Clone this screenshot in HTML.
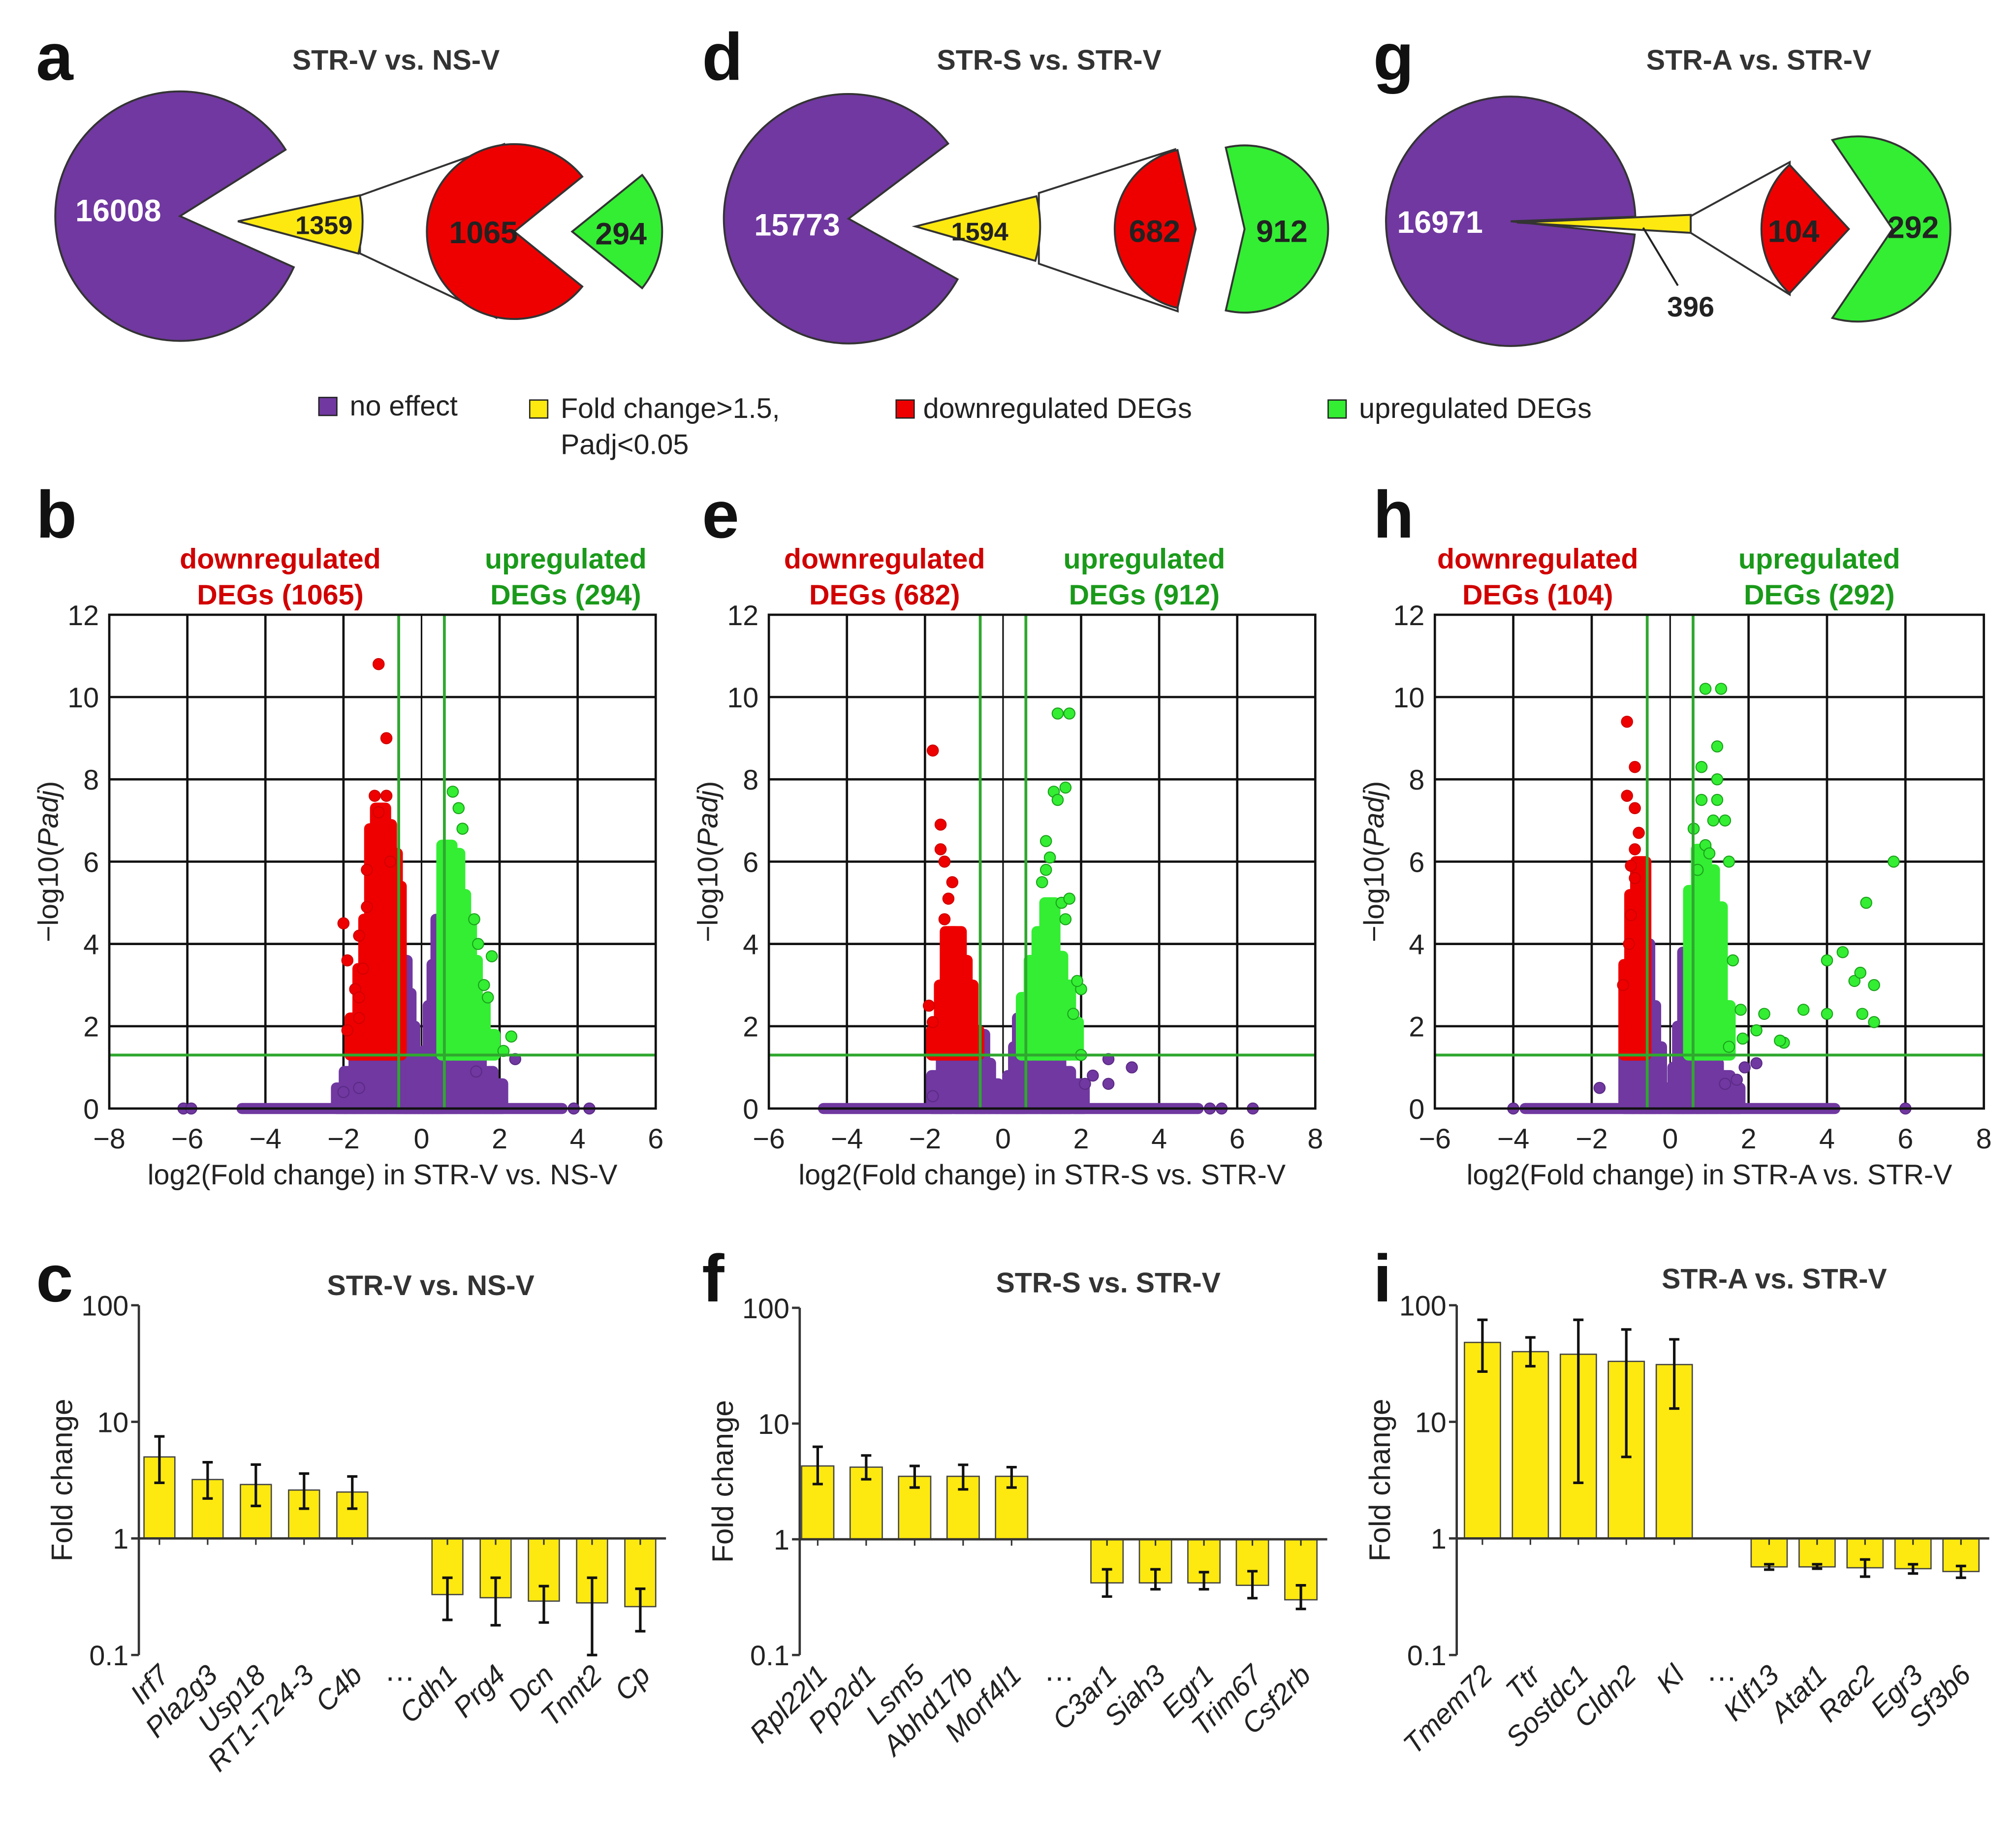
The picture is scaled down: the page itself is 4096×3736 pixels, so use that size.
<!DOCTYPE html>
<html><head><meta charset="utf-8">
<style>
html,body{margin:0;padding:0;background:#fff;}
svg{display:block;font-family:"Liberation Sans",Arial,sans-serif;}
</style></head>
<body>
<svg id="fig" xmlns="http://www.w3.org/2000/svg" width="4096" height="3736" viewBox="0 0 1568 1430">
<rect width="1568" height="1430" fill="#fff"/>
<g font-weight="bold" font-size="52" fill="#111">
<text x="28" y="62">a</text><text x="546" y="62">d</text><text x="1068" y="62">g</text>
<text x="28" y="418">b</text><text x="546" y="418">e</text><text x="1068" y="418">h</text>
<text x="28" y="1012">c</text><text x="546" y="1012">f</text><text x="1068" y="1012">i</text>
</g>
<g font-weight="bold" font-size="22" fill="#333" text-anchor="middle">
<text x="308" y="54">STR-V vs. NS-V</text><text x="816" y="54">STR-S vs. STR-V</text><text x="1368" y="54">STR-A vs. STR-V</text>
</g>
<g id="pies"></g>
<g font-size="22" fill="#222">
<rect x="248" y="309" width="14" height="14" fill="#7038a0" stroke="#222"/><text x="272" y="323">no effect</text>
<rect x="412" y="311" width="14" height="14" fill="#fde910" stroke="#222"/><text x="436" y="325">Fold change&gt;1.5,</text><text x="436" y="353">Padj&lt;0.05</text>
<rect x="697" y="311" width="14" height="14" fill="#ee0000" stroke="#222"/><text x="718" y="325">downregulated DEGs</text>
<rect x="1033" y="311" width="14" height="14" fill="#33ee33" stroke="#222"/><text x="1057" y="325">upregulated DEGs</text>
</g>
<g id="volc"></g>
<g id="bars"></g>
</svg>
<script>
// ---------- Pie data ----------
const pieA = [16008, 1359, 1065, 294];
const pieD = [15773, 1594, 682, 912];
const pieG = [16971, 396, 104, 292];

// ---------- Volcano b data ----------
const bRedPts = [[-1.1,10.8],[-0.9,9.0],[-2.0,4.5],[-1.9,3.6],[-1.5,3.4],[-1.7,2.9],[-1.6,2.7],[-1.9,1.9],[-1.6,2.2],[-1.2,7.6],[-0.9,7.6],[-1.4,5.8],[-1.4,4.9],[-1.6,4.2],[-1.1,7.2],[-0.8,6.0]];
const bRedCloud = [[-1.7,2.2],[-1.5,3.4],[-1.35,4.6],[-1.2,6.8],[-1.05,7.3],[-0.9,6.9],[-0.75,6.2],[-0.65,5.4]];
const bGreenPts = [[0.8,7.7],[0.95,7.3],[1.05,6.8],[1.8,3.7],[1.7,2.7],[2.3,1.75],[2.1,1.4],[1.35,4.6],[1.45,4.0],[1.6,3.0]];
const bGreenCloud = [[0.65,6.4],[0.85,6.2],[1.0,5.2],[1.15,4.6],[1.3,3.6],[1.5,2.6],[1.75,1.8]];
const bPurpleCloud = [[-2.05,0.5],[-1.85,0.9],[-1.6,1.2],[-1.3,1.3],[-1.0,1.3],[-0.7,1.3],[-0.5,3.6],[-0.4,2.8],[-0.3,2.0],[-0.18,1.2],[-0.05,0.4],[0.05,0.4],[0.18,1.4],[0.3,2.5],[0.4,3.5],[0.5,4.6],[0.8,1.3],[1.1,1.3],[1.4,1.2],[1.7,0.9],[1.95,0.6]];
const bPurplePts = [[2.4,1.2],[1.4,0.9],[-2.0,0.4],[-1.6,0.5]];
const bBase = [-4.6, 3.6];
const bBasePts = [-6.1, -5.9, 3.9, 4.3];

// ---------- Volcano e data ----------
const eRedPts = [[-1.8,8.7],[-1.6,6.9],[-1.6,6.3],[-1.5,6.0],[-1.3,5.5],[-1.4,5.1],[-1.9,2.5],[-1.8,2.1],[-1.5,4.6]];
const eRedCloud = [[-1.7,1.9],[-1.5,3.0],[-1.35,4.3],[-1.2,4.3],[-1.05,3.6],[-0.9,3.0],[-0.75,1.9]];
const eGreenPts = [[1.4,9.6],[1.7,9.6],[1.3,7.7],[1.6,7.8],[1.4,7.5],[1.1,6.5],[1.2,6.1],[1.5,5.0],[1.7,5.1],[1.6,4.6],[2.0,2.9],[1.8,2.3],[2.0,1.3],[1.1,5.8],[1.0,5.5],[1.9,3.1]];
const eGreenCloud = [[0.6,2.7],[0.8,3.6],[1.0,4.3],[1.2,5.0],[1.4,3.7],[1.6,3.0],[1.8,2.1]];
const ePurpleCloud = [[-1.7,0.8],[-1.45,1.3],[-1.1,1.3],[-0.8,1.3],[-0.6,1.8],[-0.45,1.1],[-0.25,0.6],[-0.05,0.3],[0.1,0.3],[0.25,0.8],[0.4,1.5],[0.5,2.2],[0.8,1.3],[1.1,1.3],[1.35,1.3],[1.6,0.9],[1.95,0.6]];
const ePurplePts = [[2.7,1.2],[3.3,1.0],[2.7,0.6],[2.3,0.8],[-1.8,0.3],[2.1,0.6]];
const eBase = [-4.6, 5.0];
const eBasePts = [5.3, 5.6, 6.4];

// ---------- Volcano h data ----------
const hRedPts = [[-1.1,9.4],[-0.9,8.3],[-1.1,7.6],[-0.9,7.3],[-0.8,6.7],[-0.9,6.3],[-1.0,5.9],[-0.9,5.6],[-1.0,4.7],[-1.2,3.0],[-1.05,4.0]];
const hRedCloud = [[-1.05,3.5],[-0.9,5.2],[-0.75,6.0]];
const hGreenPts = [[0.9,10.2],[1.3,10.2],[1.2,8.8],[0.8,8.3],[1.2,8.0],[0.8,7.5],[1.2,7.5],[1.1,7.0],[1.4,7.0],[0.6,6.8],[0.9,6.4],[1.0,6.2],[0.7,5.8],[1.5,6.0],[1.6,3.6],[1.8,2.4],[1.5,1.5],[1.85,1.7],[2.4,2.3],[2.2,1.9],[2.9,1.6],[3.4,2.4],[4.0,2.3],[4.0,3.6],[4.4,3.8],[4.7,3.1],[4.85,3.3],[5.2,3.0],[4.9,2.3],[5.2,2.1],[5.0,5.0],[5.7,6.0],[2.8,1.65]];
const hGreenCloud = [[0.6,5.3],[0.8,6.3],[1.0,5.8],[1.2,4.9],[1.4,2.5]];
const hPurpleCloud = [[-1.05,1.3],[-0.85,4.5],[-0.65,4.0],[-0.5,2.5],[-0.35,1.5],[-0.15,0.5],[0.1,0.5],[0.2,1.0],[0.32,2.0],[0.45,3.8],[0.6,3.5],[0.8,1.3],[1.1,1.1],[1.4,0.8],[1.65,0.5]];
const hPurplePts = [[-1.8,0.5],[1.9,1.0],[2.2,1.1],[1.4,0.6],[1.7,0.7]];
const hBase = [-3.7, 4.2];
const hBasePts = [-4.0, 6.0];

// ---------- Bar chart data ----------
const cGenes = ["Irf7","Pla2g3","Usp18","RT1-T24-3","C4b","Cdh1","Prg4","Dcn","Tnnt2","Cp"];
const cVals = [5.0,3.2,2.9,2.6,2.5,0.33,0.31,0.29,0.28,0.26];
const cLo = [3.0,2.2,1.9,1.8,1.8,0.2,0.18,0.19,0.1,0.16];
const cHi = [7.5,4.5,4.3,3.6,3.4,0.46,0.46,0.39,0.46,0.37];
const fGenes = ["Rpl22l1","Pp2d1","Lsm5","Abhd17b","Morf4l1","C3ar1","Siah3","Egr1","Trim67","Csf2rb"];
const fVals = [4.3,4.2,3.5,3.5,3.5,0.42,0.42,0.42,0.4,0.3];
const fLo = [3.0,3.3,2.8,2.7,2.8,0.32,0.37,0.37,0.31,0.25];
const fHi = [6.3,5.3,4.3,4.4,4.2,0.55,0.55,0.52,0.53,0.4];
const iGenes = ["Tmem72","Ttr","Sostdc1","Cldn2","Kl","Klf13","Atat1","Rac2","Egr3","Sf3b6"];
const iVals = [48,40,38,33,31,0.57,0.57,0.56,0.55,0.52];
const iLo = [27,30,3,5,13,0.54,0.55,0.47,0.5,0.46];
const iHi = [75,53,75,62,51,0.6,0.6,0.66,0.6,0.58];
const yTickVals = [100,10,1,0.1];
const yTickLabels = ["100","10","1","0.1"];

const NS="http://www.w3.org/2000/svg";
function mk(tag, attrs, parent, txt){
  const e=document.createElementNS(NS,tag);
  for(const k in attrs) e.setAttribute(k,attrs[k]);
  if(txt!==undefined) e.textContent=txt;
  parent.appendChild(e); return e;
}
const PUR="#7038a0", YEL="#fde910", RED="#ee0000", GRN="#33ee33";
function pt(cx,cy,r,a){const t=a*Math.PI/180;return [cx+r*Math.cos(t),cy+r*Math.sin(t)];}
function sector(cx,cy,r,a1,a2,apx,apy){
  if(apx===undefined){apx=cx;apy=cy;}
  const p1=pt(cx,cy,r,a1),p2=pt(cx,cy,r,a2);
  const large=((a2-a1+360)%360)>180?1:0;
  return `M${apx},${apy} L${p1[0]},${p1[1]} A${r},${r} 0 ${large} 1 ${p2[0]},${p2[1]} Z`;
}
// ---------- Pies ----------
const pies=document.getElementById('pies');
function drawPie(cfg, vals, name){
  const g=mk('g',{},pies);
  
  
  const total=vals[0]+vals[1];
  const ySpan=vals[1]/total*360;
  const mouth=Math.max(ySpan*cfg.mouthK,7);
  let p=mk('path',{d:sector(cfg.pc[0],cfg.pc[1],97,cfg.mouthC+mouth/2,cfg.mouthC-mouth/2+360),fill:PUR,stroke:"#333","stroke-width":1.5},g);
  
  
  const yt=cfg.yTop, yb=cfg.yBot;
  const c=mk('path',{d:`M${yt[0]},${yt[1]} L${cfg.cTop[0]},${cfg.cTop[1]} L${cfg.cBot[0]},${cfg.cBot[1]} L${yb[0]},${yb[1]} Z`,fill:"#fff",stroke:"#333","stroke-width":1.5},g);
  
  
  let y=mk('path',{d:cfg.yPath,fill:YEL,stroke:"#333","stroke-width":1.5},g);
  
  
  const sub=vals[2]+vals[3];
  const rSpan=vals[2]/sub*360, gSpan=vals[3]/sub*360;
  let r=mk('path',{d:sector(cfg.rc[0],cfg.rc[1],cfg.rr,180-rSpan/2,180+rSpan/2),fill:RED,stroke:"#333","stroke-width":1.5},g);
  
  
  const ga=Math.min(gSpan/2,cfg.gMax||180);
  let gr=mk('path',{d:sector(cfg.gc[0],cfg.gc[1],cfg.gr,-ga,ga,cfg.gap[0],cfg.gap[1]),fill:GRN,stroke:"#333","stroke-width":1.5},g);
  
  
  cfg.labels.forEach(L=>{
    const t=mk('text',{x:L[0],y:L[1],"text-anchor":"middle","font-weight":"bold","font-size":L[2],fill:L[3]},g,String(vals[L[4]]));
    
    
  });
}
drawPie({pc:[140,168],mouthC:-4,mouthK:2.0,
  yTop:[280,152],yBot:[280,197],cTop:[392,112],cBot:[386,247],
  yPath:sector(185,172,97,-12,15),
  rc:[400,180],rr:68,gc:[445,180],gr:70,gap:[445,180],
  labels:[[92,172,24,"#fff",0],[252,182,20,"#222",1],[376,189,24,"#222",2],[483,190,24,"#222",3]]},pieA,'pie-str-v-vs-ns-v');
drawPie({pc:[660,170],mouthC:-4,mouthK:2.0,
  yTop:[808,150],yBot:[808,205],cTop:[914,116],cBot:[916,242],
  yPath:sector(712,176,97,-14,16),
  rc:[930,178],rr:63,gc:[968,178],gr:65,gap:[968,178],gMax:110,
  labels:[[620,183,24,"#fff",0],[762,187,20,"#222",1],[898,188,24,"#222",2],[997,188,24,"#222",3]]},pieD,'pie-str-s-vs-str-v');
drawPie({pc:[1175,172],mouthC:2,mouthK:1,
  yTop:[1315,168],yBot:[1315,181],cTop:[1392,126],cBot:[1392,229],
  yPath:"M1180,173 L1315,167 L1315,181 Z",
  rc:[1438,178],rr:68,gc:[1445,178],gr:72,gap:[1472,178],gMax:106,
  labels:[[1120,181,24,"#fff",0],[1395,188,24,"#222",2],[1488,185,24,"#222",3]]},pieG,'pie-str-a-vs-str-v');
(function(){
  const l=mk('line',{x1:1278,y1:177,x2:1305,y2:222,stroke:"#222","stroke-width":1.5},pies);
  
  
  const t=mk('text',{x:1315,y:246,"text-anchor":"middle","font-weight":"bold","font-size":22,fill:"#222"},pies,String(pieG[1]));
  
  
})();

// ---------- Volcano ----------
const volc=document.getElementById('volc');
function drawVolcano(cfg,d){
  const g=mk('g',{},volc);
  
  
  const top=478,bot=862;
  const sx=v=>cfg.x0+(v-cfg.xmin)/(cfg.xmax-cfg.xmin)*(cfg.x1-cfg.x0);
  const sy=v=>bot-v/12*(bot-top);
  const ux=sx(1)-sx(0);
  for(let v=cfg.xmin;v<=cfg.xmax;v+=2){
    if(v>cfg.xmin&&v<cfg.xmax){const l=mk('line',{x1:sx(v),y1:top,x2:sx(v),y2:bot,stroke:"#111","stroke-width":v===0?1.2:1.8},g);
      
      }
    const t=mk('text',{x:sx(v),y:893,"text-anchor":"middle","font-size":22,fill:"#222"},g,(v<0?"\u2212"+(-v):String(v)));
    
    
  }
  for(let v=0;v<=12;v+=2){
    if(v>0&&v<12){const l=mk('line',{x1:cfg.x0,y1:sy(v),x2:cfg.x1,y2:sy(v),stroke:"#111","stroke-width":1.8},g);
      
      }
    const t=mk('text',{x:cfg.x0-8,y:sy(v)+8,"text-anchor":"end","font-size":22,fill:"#222"},g,String(v));
    
    
  }
  const R=4.3;
  function cloud(arr,lo,fill,nm){
    arr.forEach(b=>{const y1=sy(b[1])-R,y2=sy(lo)+R;
      const r=mk('rect',{x:sx(b[0])-0.13*ux-R,y:y1,width:0.26*ux+2*R,height:Math.max(y2-y1,2*R),rx:R,fill:fill},g);
      
      });
  }
  function pts(arr,fill,stroke,nm){
    arr.forEach(p=>{const c=mk('circle',{cx:sx(p[0]),cy:sy(p[1]),r:R,fill:fill,stroke:stroke,"stroke-width":0.8},g);
      
      });
  }
  const bl=mk('rect',{x:sx(d.base[0])-R,y:sy(0)-R,width:sx(d.base[1])-sx(d.base[0])+2*R,height:2*R,rx:R,fill:PUR},g);
  
  
  pts(d.basePts.map(x=>[x,0]),PUR,"#5a2a85",'point-no-effect');
  cloud(d.pc,0,PUR,'cloud-no-effect');
  pts(d.pp,PUR,"#5a2a85",'point-no-effect');
  cloud(d.rc,1.3,RED,'cloud-downregulated');
  pts(d.rp,RED,"#d00000",'point-downregulated');
  cloud(d.gc,1.3,GRN,'cloud-upregulated');
  pts(d.gp,GRN,"#1aa01a",'point-upregulated');
  const thr=[[sx(-0.585),top,sx(-0.585),bot],[sx(0.585),top,sx(0.585),bot],[cfg.x0,sy(1.3),cfg.x1,sy(1.3)]];
  thr.forEach(t=>{const l=mk('line',{x1:t[0],y1:t[1],x2:t[2],y2:t[3],stroke:"#2fa82f","stroke-width":2.2},g);
    
    });
  const fr=mk('rect',{x:cfg.x0,y:top,width:cfg.x1-cfg.x0,height:bot-top,fill:"none",stroke:"#111","stroke-width":1.8},g);
  
  
  const yt=mk('text',{transform:`translate(${cfg.x0-40},${670}) rotate(-90)`,"text-anchor":"middle","font-size":22,fill:"#222"},g);
  
  
  yt.innerHTML='\u2212log10(<tspan font-style="italic">Padj</tspan>)';
  const xt=mk('text',{x:(cfg.x0+cfg.x1)/2,y:921,"text-anchor":"middle","font-size":22,fill:"#222"},g,cfg.xlabel);
  
  
  const dl=mk('text',{x:cfg.dx,y:442,"text-anchor":"middle","font-size":22,"font-weight":"bold",fill:"#d10000"},g,"downregulated");
  
  
  const dl2=mk('text',{x:cfg.dx,y:470,"text-anchor":"middle","font-size":22,"font-weight":"bold",fill:"#d10000"},g,`DEGs (${cfg.nd})`);
  
  
  const ul=mk('text',{x:cfg.ux,y:442,"text-anchor":"middle","font-size":22,"font-weight":"bold",fill:"#1a9a1a"},g,"upregulated");
  
  
  const ul2=mk('text',{x:cfg.ux,y:470,"text-anchor":"middle","font-size":22,"font-weight":"bold",fill:"#1a9a1a"},g,`DEGs (${cfg.nu})`);
  
  
}
drawVolcano({name:'volcano-str-v-vs-ns-v',x0:85,x1:510,xmin:-8,xmax:6,xlabel:"log2(Fold change) in STR-V vs. NS-V",dx:218,ux:440,nd:pieA[2],nu:pieA[3]},
  {rp:bRedPts,rc:bRedCloud,gp:bGreenPts,gc:bGreenCloud,pc:bPurpleCloud,pp:bPurplePts,base:bBase,basePts:bBasePts});
drawVolcano({name:'volcano-str-s-vs-str-v',x0:598,x1:1023,xmin:-6,xmax:8,xlabel:"log2(Fold change) in STR-S vs. STR-V",dx:688,ux:890,nd:pieD[2],nu:pieD[3]},
  {rp:eRedPts,rc:eRedCloud,gp:eGreenPts,gc:eGreenCloud,pc:ePurpleCloud,pp:ePurplePts,base:eBase,basePts:eBasePts});
drawVolcano({name:'volcano-str-a-vs-str-v',x0:1116,x1:1543,xmin:-6,xmax:8,xlabel:"log2(Fold change) in STR-A vs. STR-V",dx:1196,ux:1415,nd:pieG[2],nu:pieG[3]},
  {rp:hRedPts,rc:hRedCloud,gp:hGreenPts,gc:hGreenCloud,pc:hPurpleCloud,pp:hPurplePts,base:hBase,basePts:hBasePts});

// ---------- Bars ----------
const barsG=document.getElementById('bars');
function drawBars(cfg,genes,vals,lo,hi){
  const g=mk('g',{},barsG);
  
  
  const y100=cfg.y100,y01=cfg.y01;
  const sy=v=>y01-(Math.log10(v)+1)/3*(y01-y100);
  const cx=i=>i<5?cfg.s1+i*cfg.step:cfg.s2+(i-5)*cfg.step;
  const ax=mk('line',{x1:cfg.ax,y1:y100,x2:cfg.ax,y2:y01,stroke:"#333","stroke-width":1.8},g);
  
  
  yTickVals.forEach((v,k)=>{
    const tk=mk('line',{x1:cfg.ax-6,y1:sy(v),x2:cfg.ax,y2:sy(v),stroke:"#333","stroke-width":1.8},g);
    
    
    const t=mk('text',{x:cfg.ax-8,y:sy(v)+8,"text-anchor":"end","font-size":22,fill:"#222"},g,yTickLabels[k]);
    
    
  });
  const yt=mk('text',{transform:`translate(${cfg.ax-52},${(y100+y01)/2}) rotate(-90)`,"text-anchor":"middle","font-size":23,fill:"#222"},g,"Fold change");
  
  
  const ti=mk('text',{x:cfg.tx,y:cfg.ty,"text-anchor":"middle","font-size":22,"font-weight":"bold",fill:"#333"},g,cfg.title);
  
  
  const w=cfg.bw;
  vals.forEach((v,i)=>{
    const x=cx(i),y1=sy(Math.max(v,1)),y2=sy(Math.min(v,1));
    const b=mk('rect',{x:x-w/2,y:y1,width:w,height:y2-y1,fill:YEL,stroke:"#444","stroke-width":1},g);
    
    
    const e=mk('path',{d:`M${x},${sy(lo[i])}V${sy(hi[i])}M${x-4},${sy(lo[i])}H${x+4}M${x-4},${sy(hi[i])}H${x+4}`,stroke:"#111","stroke-width":2,fill:"none"},g);
    
    
    const tk=mk('line',{x1:x,y1:sy(1),x2:x,y2:sy(1)+5,stroke:"#333","stroke-width":1.2},g);
    
    
    const t=mk('text',{transform:`translate(${x+9},${y01+17}) rotate(-45)`,"text-anchor":"end","font-size":22,"font-style":"italic",fill:"#222"},g,genes[i]);
    
    
  });
  const bl=mk('line',{x1:cfg.ax,y1:sy(1),x2:cx(9)+w/2+8,y2:sy(1),stroke:"#333","stroke-width":1.8},g);
  
  
  const el=mk('text',{x:(cx(4)+cx(5))/2,y:y01+20,"text-anchor":"middle","font-size":24,fill:"#222"},g,"\u2026");
  
  
}
drawBars({name:'bars-str-v-vs-ns-v',ax:108,y100:1015,y01:1287,s1:124,s2:348,step:37.5,bw:24,title:"STR-V vs. NS-V",tx:335,ty:1007},cGenes,cVals,cLo,cHi);
drawBars({name:'bars-str-s-vs-str-v',ax:622,y100:1017,y01:1287,s1:636,s2:861,step:37.7,bw:25,title:"STR-S vs. STR-V",tx:862,ty:1005},fGenes,fVals,fLo,fHi);
drawBars({name:'bars-str-a-vs-str-v',ax:1133,y100:1015,y01:1287,s1:1153,s2:1376,step:37.3,bw:28,title:"STR-A vs. STR-V",tx:1380,ty:1002},iGenes,iVals,iLo,iHi);
</script>
</body></html>
